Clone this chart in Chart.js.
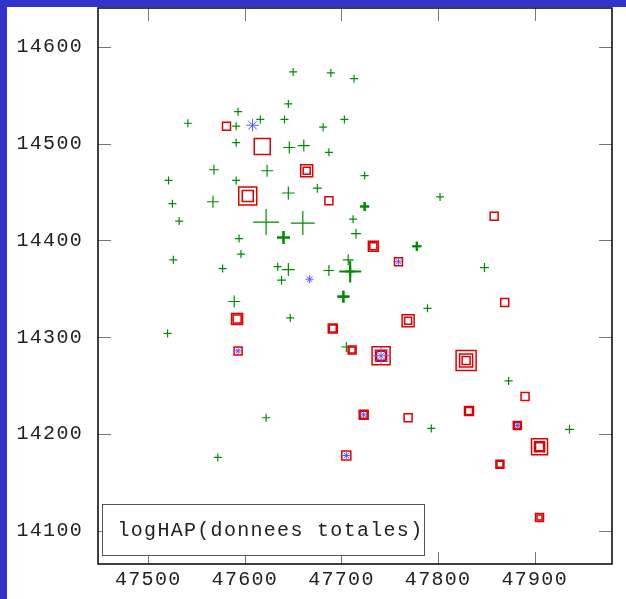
<!DOCTYPE html>
<html>
<head>
<meta charset="utf-8">
<script src="https://cdn.jsdelivr.net/npm/chart.js@4.4.1/dist/chart.umd.min.js"></script>
<style>
html, body { margin: 0; padding: 0; background: #3333cc; }
#wrap { position: absolute; left: 7px; top: 7px; width: 619px; height: 592px; background: #fff; }
</style>
</head>
<body>
<div id="wrap"><canvas id="chart" width="619" height="592"></canvas></div>
<script>
// stations (x, y) and their level; repeated coordinates are repeated samples
var greenX = [47650, 47689, 47713, 47645, 47593, 47541, 47591, 47616, 47641, 47681,
    47703, 47591, 47646, 47661, 47687, 47724, 47568, 47623, 47521, 47591,
    47675, 47802, 47645, 47567, 47525, 47724, 47724, 47532, 47712, 47622,
    47660, 47715, 47640, 47640, 47594, 47778, 47778, 47596, 47526, 47707,
    47848, 47577, 47634, 47645, 47687, 47709, 47709, 47638, 47702, 47702,
    47589, 47789, 47647, 47520, 47705, 47873, 47622, 47793, 47936, 47572];
var greenY = [14574, 14573, 14567, 14541, 14533, 14521, 14518, 14525, 14525, 14517,
    14525, 14501, 14496, 14498, 14491, 14467, 14473, 14472, 14462, 14462,
    14454, 14445, 14449, 14440, 14438, 14435, 14435, 14420, 14422, 14419,
    14418, 14407, 14403, 14403, 14402, 14394, 14394, 14386, 14380, 14380,
    14372, 14371, 14373, 14370, 14369, 14368, 14368, 14359, 14342, 14342,
    14337, 14330, 14320, 14304, 14290, 14255, 14217, 14206, 14205, 14176];
var greenLevel = [2, 2, 2, 2, 2, 2, 2, 2, 2, 2,
    2, 2, 3, 3, 2, 2, 2.5, 3, 2, 2,
    2.25, 2, 3.25, 3, 2, 2.25, 2.25, 2, 2, 6.5,
    6, 2.5, 3.25, 3.25, 2, 2.25, 2.25, 2, 2, 2.75,
    2.25, 2, 2, 3.25, 2.75, 5.5, 2.5, 2.25, 3, 3,
    3, 2, 2, 2, 2.5, 2, 2, 2, 2.25, 2];

var redX = [47581, 47618, 47664, 47664, 47603, 47603, 47687, 47733, 47733, 47858,
    47759, 47592, 47592, 47691, 47691, 47869, 47769, 47769, 47711, 47711,
    47593, 47741, 47741, 47741, 47829, 47829, 47829, 47890, 47832, 47832,
    47723, 47723, 47769, 47882, 47882, 47905, 47905, 47905, 47705, 47864,
    47864, 47905, 47905];
var redY = [14518, 14497, 14472, 14472, 14446, 14446, 14441, 14394, 14394, 14425,
    14378, 14319, 14319, 14309, 14309, 14336, 14317, 14317, 14287, 14287,
    14286, 14281, 14281, 14281, 14276, 14276, 14276, 14239, 14224, 14224,
    14220, 14220, 14217, 14209, 14209, 14187, 14187, 14187, 14178, 14169,
    14169, 14114, 14114];
var redLevel = [2, 4, 3, 1.75, 4.5, 2.75, 2, 2.5, 1.75, 2,
    2, 2.75, 2, 2.25, 1.75, 2, 3, 1.75, 2, 1.5,
    2, 4.5, 2.75, 2.25, 5, 3.25, 2, 2, 2.25, 1.75,
    2.25, 1.75, 2, 2, 1.5, 4, 2.5, 2, 2.25, 2,
    1.5, 2, 1.25];

var blueX = [47608, 47667, 47759, 47593, 47741, 47723, 47882, 47705];
var blueY = [14519, 14360, 14378, 14286, 14281, 14220, 14209, 14178];
var blueLevel = [3.15, 2, 1.75, 1.75, 4.5, 1.75, 1.5, 2];

var xTicks = [47500, 47600, 47700, 47800, 47900];
var yTicks = [14100, 14200, 14300, 14400, 14500, 14600];
var legendLabel = 'logHAP(donnees totales)';

var PX = 2; // half marker size in px per level unit
var FONT = { family: '"Liberation Mono", "DejaVu Sans Mono", monospace', size: 20 };

function toPoints(xs, ys) {
    return xs.map(function (x, i) { return { x: x, y: ys[i] }; });
}

// samples at the same place get a heavier stroke
function sameSpot(xs, ys, i) {
    var n = 0;
    for (var j = 0; j < xs.length; j++) {
        if (xs[j] === xs[i] && ys[j] === ys[i]) n++;
    }
    return n;
}

var frame = {
    id: 'frame',
    beforeDraw: function (chart) {
        chart.ctx.letterSpacing = '1.3px';
    },
    afterDatasetsDraw: function (chart) {
        var ctx = chart.ctx, a = chart.chartArea;
        var sx = chart.scales.x, sy = chart.scales.y;
        ctx.save();
        ctx.strokeStyle = '#777';
        ctx.lineWidth = 1;
        ctx.beginPath();
        xTicks.forEach(function (v) {
            var px = Math.round(sx.getPixelForValue(v)) + 0.5;
            ctx.moveTo(px, a.top); ctx.lineTo(px, a.top + 13);
            ctx.moveTo(px, a.bottom); ctx.lineTo(px, a.bottom - 12);
        });
        yTicks.forEach(function (v) {
            var py = Math.round(sy.getPixelForValue(v)) + 0.5;
            ctx.moveTo(a.left, py); ctx.lineTo(a.left + 13, py);
            ctx.moveTo(a.right, py); ctx.lineTo(a.right - 13, py);
        });
        ctx.stroke();

        // key box
        var bx = a.left + 4.5, by = a.bottom - 59.5, bw = 322, bh = 51;
        ctx.fillStyle = '#fff';
        ctx.fillRect(bx, by, bw, bh);
        ctx.strokeStyle = '#555';
        ctx.strokeRect(bx, by, bw, bh);
        ctx.fillStyle = '#222';
        ctx.font = FONT.size + 'px ' + FONT.family;
        ctx.letterSpacing = '1.3px';
        ctx.textBaseline = 'middle';
        ctx.fillText(legendLabel, bx + 15, by + bh / 2 + 1);

        ctx.strokeStyle = '#000';
        ctx.lineWidth = 1.5;
        ctx.strokeRect(a.left, a.top, a.right - a.left, a.bottom - a.top);
        ctx.restore();
    }
};

new Chart(document.getElementById('chart'), {
    type: 'scatter',
    data: {
        datasets: [{
            label: 'green',
            data: toPoints(greenX, greenY),
            order: 3,
            pointStyle: 'cross',
            pointRadius: function (c) { return greenLevel[c.dataIndex] * PX; },
            pointBorderColor: '#008c00',
            pointBackgroundColor: 'rgba(0,0,0,0)',
            pointBorderWidth: function (c) { return 1.2 + 0.9 * (sameSpot(greenX, greenY, c.dataIndex) - 1); }
        }, {
            label: 'red',
            data: toPoints(redX, redY),
            order: 2,
            pointStyle: 'rect',
            pointRadius: function (c) { return redLevel[c.dataIndex] * PX * Math.SQRT2; },
            pointBorderColor: '#e00000',
            pointBackgroundColor: 'rgba(0,0,0,0)',
            pointBorderWidth: 1.5
        }, {
            label: 'blue',
            data: toPoints(blueX, blueY),
            order: 1,
            pointStyle: 'star',
            pointRadius: function (c) { return blueLevel[c.dataIndex] * PX; },
            pointBorderColor: '#5a5aff',
            pointBackgroundColor: 'rgba(0,0,0,0)',
            pointBorderWidth: 1
        }]
    },
    options: {
        responsive: false,
        animation: false,
        events: [],
        layout: { autoPadding: false, padding: { left: 0, top: 1, right: 14, bottom: 0 } },
        plugins: { legend: { display: false }, tooltip: { enabled: false } },
        scales: {
            x: {
                type: 'linear',
                min: 47448,
                max: 47980,
                grid: { display: false, drawTicks: false },
                border: { display: false },
                afterBuildTicks: function (s) { s.ticks = xTicks.map(function (v) { return { value: v }; }); },
                afterFit: function (s) { s.height = 35; s.paddingLeft = 0; s.paddingRight = 0; },
                ticks: { font: FONT, color: '#222', padding: 4, maxRotation: 0, callback: function (v) { return String(v); } }
            },
            y: {
                type: 'linear',
                min: 14066,
                max: 14640,
                grid: { display: false, drawTicks: false },
                border: { display: false },
                afterBuildTicks: function (s) { s.ticks = yTicks.map(function (v) { return { value: v }; }); },
                afterFit: function (s) { s.width = 91; s.paddingTop = 0; s.paddingBottom = 0; },
                ticks: { font: FONT, color: '#222', padding: 15, callback: function (v) { return String(v); } }
            }
        }
    },
    plugins: [frame]
});
</script>
</body>
</html>
